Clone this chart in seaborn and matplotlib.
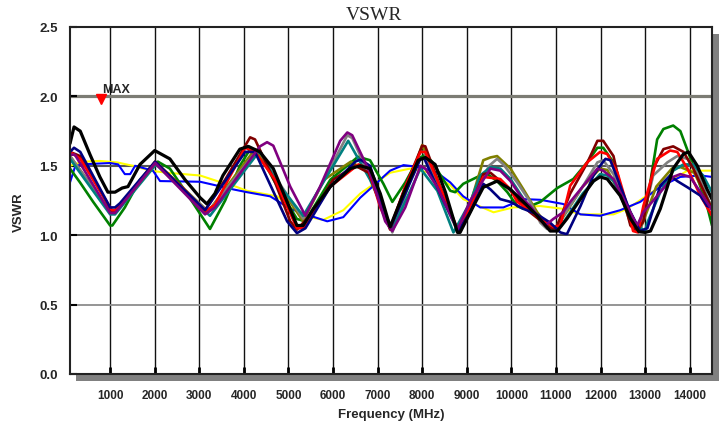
import matplotlib
matplotlib.use("Agg")
import matplotlib.pyplot as plt
import seaborn as sns
import pandas as pd
from matplotlib.patches import Rectangle

# ---------------- data (frequency MHz, VSWR) ----------------
black_f = [100,190,330,550,770,950,1110,1270,1400,1670,2000,2340,2680,3020,3170,3350,3530,3910,4100,4360,4660,4970,5190,5330,5560,5940,6390,6610,6830,7060,7280,7580,7910,8070,8290,8520,8790,8850,9150,9370,9680,9980,10270,10580,10870,11030,11250,11550,11840,11990,12150,12440,12670,12860,13000,13120,13340,13630,13860,13970,14170,14390,14500]
black_v = [1.66,1.78,1.75,1.58,1.42,1.31,1.31,1.34,1.35,1.51,1.61,1.55,1.40,1.27,1.225,1.30,1.43,1.62,1.64,1.60,1.48,1.24,1.07,1.07,1.19,1.35,1.48,1.50,1.48,1.30,1.06,1.30,1.54,1.56,1.51,1.31,1.02,1.02,1.21,1.345,1.39,1.33,1.24,1.14,1.03,1.03,1.12,1.26,1.39,1.42,1.405,1.285,1.12,1.025,1.02,1.03,1.19,1.48,1.585,1.60,1.50,1.33,1.26]

yellow_f = [100,390,770,1150,1510,1900,2280,3020,3400,3760,4070,4750,5040,5490,5780,6230,6610,7280,7730,8180,8630,8920,9600,10040,10650,11160,11550,12000,12290,12600,13340,13950,14500]
yellow_v = [1.50,1.53,1.535,1.525,1.50,1.465,1.45,1.43,1.39,1.357,1.32,1.28,1.20,1.13,1.11,1.18,1.30,1.45,1.48,1.45,1.36,1.26,1.165,1.20,1.21,1.19,1.15,1.15,1.15,1.19,1.35,1.465,1.465]

blue_f = [100,210,330,1000,1180,1330,1450,1560,1960,2120,3020,3400,3760,4070,4590,5040,5490,5870,6230,6610,6990,7280,7580,7960,8340,8630,8920,9300,9820,10270,10650,11160,11550,11990,12440,12890,13340,13790,14240,14500]
blue_v = [1.38,1.49,1.51,1.52,1.51,1.44,1.44,1.50,1.465,1.39,1.385,1.357,1.33,1.31,1.28,1.19,1.14,1.10,1.13,1.27,1.38,1.465,1.505,1.49,1.45,1.38,1.28,1.20,1.20,1.26,1.255,1.225,1.15,1.14,1.18,1.24,1.35,1.42,1.43,1.42]

green_f = [100,325,620,1000,1050,1330,1670,2070,2340,2680,3240,3580,3910,4140,4360,4700,5190,5380,5940,6560,6830,7130,7330,7620,7910,8070,8220,8630,8740,8920,9240,9460,9680,9910,10130,10270,10650,11030,11390,11700,11930,12060,12290,12510,12730,12850,13050,13270,13410,13630,13790,14080,14390,14500]
green_v = [1.48,1.38,1.24,1.07,1.07,1.20,1.40,1.53,1.48,1.32,1.045,1.25,1.50,1.62,1.58,1.38,1.117,1.10,1.40,1.565,1.54,1.37,1.24,1.38,1.55,1.58,1.53,1.32,1.31,1.37,1.42,1.44,1.39,1.31,1.21,1.19,1.24,1.34,1.405,1.525,1.63,1.63,1.525,1.26,1.07,1.06,1.25,1.69,1.765,1.79,1.75,1.50,1.21,1.07]

red_f = [100,330,1040,1110,1330,2010,2570,3130,3350,4030,4250,4700,5190,5330,5940,6570,6790,7060,7280,7620,7960,8070,8400,8790,9080,9370,9750,9980,10130,10360,10580,10800,10940,11100,11320,11700,11990,12150,12380,12600,12730,12840,12960,13270,13560,13720,13950,14240,14500]
red_v = [1.60,1.55,1.18,1.18,1.25,1.52,1.36,1.17,1.22,1.63,1.60,1.40,1.05,1.05,1.35,1.51,1.48,1.20,1.05,1.35,1.60,1.60,1.35,1.04,1.20,1.42,1.405,1.33,1.24,1.19,1.14,1.09,1.06,1.07,1.357,1.525,1.60,1.585,1.45,1.21,1.03,1.02,1.21,1.55,1.61,1.60,1.48,1.285,1.14]

maroon_f = [100,330,1040,1110,2010,3130,3580,4140,4250,4700,5040,5190,5560,6000,6500,6800,7280,7620,8000,8070,8400,8810,9080,9370,9530,9900,10400,10870,11000,11320,11700,11930,12060,12290,12440,12670,12820,12960,13180,13410,13630,13860,14080,14500]
maroon_v = [1.60,1.57,1.17,1.17,1.53,1.18,1.40,1.705,1.69,1.38,1.10,1.04,1.17,1.40,1.50,1.45,1.04,1.35,1.645,1.64,1.35,1.03,1.20,1.44,1.45,1.35,1.17,1.05,1.05,1.30,1.52,1.68,1.68,1.57,1.357,1.07,1.03,1.10,1.48,1.62,1.64,1.60,1.48,1.19]

navy_f = [100,190,330,1000,1110,1220,2010,3130,4030,4250,4970,5190,5380,5940,6500,6610,6830,7280,7960,8050,8400,8810,9080,9370,9530,9750,9980,10270,10580,10870,11100,11210,11250,11550,11840,11990,12110,12220,12440,12670,12890,13050,13340,13560,13720,13950,14240,14390,14500]
navy_v = [1.60,1.63,1.60,1.20,1.20,1.23,1.53,1.18,1.60,1.60,1.10,1.015,1.05,1.35,1.53,1.545,1.50,1.05,1.55,1.55,1.30,1.03,1.17,1.37,1.33,1.26,1.24,1.19,1.15,1.09,1.02,1.01,1.01,1.21,1.43,1.50,1.55,1.54,1.357,1.165,1.03,1.05,1.357,1.43,1.39,1.345,1.285,1.21,1.20]

purple_f = [100,210,1000,1110,2010,3130,3350,4360,4520,4660,5040,5380,5710,6160,6320,6430,6830,7170,7330,7620,7960,8070,8340,8630,8790,9080,9530,9750,9980,10200,10420,10650,10760,10940,11160,11320,11930,12060,12290,12600,12820,12960,13340,13630,13790,14010,14240,14500]
purple_v = [1.58,1.58,1.16,1.16,1.52,1.15,1.20,1.64,1.67,1.645,1.35,1.14,1.35,1.68,1.74,1.72,1.45,1.10,1.03,1.20,1.50,1.48,1.345,1.15,1.04,1.25,1.48,1.465,1.39,1.285,1.21,1.117,1.07,1.117,1.165,1.24,1.48,1.465,1.405,1.21,1.07,1.165,1.31,1.42,1.44,1.42,1.31,1.18]

teal_f = [100,1000,1110,2030,3240,4360,4700,5330,6340,6830,7330,7960,8340,8700,9080,9300,9530,9750,9980,10400,10900,11100,11600,11990,12150,12290,12600,12820,13000,13050,13340,13630,13860,14080,14300,14500]
teal_v = [1.55,1.15,1.15,1.51,1.14,1.61,1.40,1.14,1.68,1.40,1.04,1.48,1.32,1.02,1.24,1.43,1.49,1.48,1.405,1.20,1.05,1.06,1.30,1.44,1.43,1.39,1.21,1.07,1.03,1.09,1.31,1.465,1.51,1.51,1.43,1.31]

gray_f = [100,1000,1110,2010,3200,4320,4700,5330,5800,6320,6430,6830,7330,7950,8050,8400,8790,9100,9500,9680,9820,10130,10420,10650,10800,11000,11600,11930,12060,12290,12600,12780,12900,13180,13500,13720,13950,14170,14500]
gray_v = [1.57,1.17,1.17,1.52,1.17,1.62,1.42,1.12,1.40,1.72,1.70,1.42,1.02,1.60,1.60,1.30,1.03,1.25,1.50,1.55,1.51,1.38,1.24,1.09,1.045,1.06,1.35,1.525,1.54,1.44,1.19,1.045,1.05,1.43,1.525,1.57,1.55,1.455,1.19]

olive_f = [100,1000,1110,2010,3200,4250,4700,5330,5800,6400,6800,7330,8000,8400,8790,9100,9370,9530,9680,9980,10270,10580,10870,11000,11600,11990,12150,12440,12700,12900,13250,13600,13800,14100,14500]
olive_v = [1.57,1.17,1.17,1.53,1.17,1.62,1.40,1.10,1.40,1.53,1.45,1.03,1.65,1.35,1.03,1.25,1.54,1.56,1.57,1.48,1.33,1.165,1.045,1.05,1.35,1.48,1.47,1.30,1.06,1.05,1.35,1.48,1.49,1.45,1.20]

max_freq = [800]
max_vswr = [1.98]

x_ticks = [1000,2000,3000,4000,5000,6000,7000,8000,9000,10000,11000,12000,13000,14000]
y_ticks = [0.0,0.5,1.0,1.5,2.0,2.5]

# ---------------- styling ----------------
sns.set_style("white")
plt.rcParams['font.family'] = ['Liberation Sans', 'DejaVu Sans']

W, H = 723, 427
fig = plt.figure(figsize=(W/100, H/100), dpi=100)
ax_l, ax_r, ax_t, ax_b = 70, 712, 28, 375
ax = fig.add_axes([ax_l/W, 1-ax_b/H, (ax_r-ax_l)/W, (ax_b-ax_t)/H])
ax.set_facecolor('white')

# drop shadow
sh = 7
fig.patches.append(Rectangle(((ax_l+6)/W, 1-(ax_b+sh)/H), (ax_r-ax_l+sh-6)/W, (ax_b-ax_t)/H,
                             transform=fig.transFigure, facecolor='#808080', edgecolor='none', zorder=0))
ax.set_zorder(1)

series = [
    ('yellow', yellow_f, yellow_v, '#FFFF00', 1.5),
    ('blue', blue_f, blue_v, '#0000FF', 1.5),
    ('green', green_f, green_v, '#008000', 1.9),
    ('olive', olive_f, olive_v, '#808000', 1.9),
    ('gray', gray_f, gray_v, '#808080', 1.9),
    ('teal', teal_f, teal_v, '#008080', 1.9),
    ('maroon', maroon_f, maroon_v, '#800000', 1.9),
    ('red', red_f, red_v, '#FF0000', 1.9),
    ('navy', navy_f, navy_v, '#000080', 1.9),
    ('purple', purple_f, purple_v, '#800080', 1.9),
    ('black', black_f, black_v, '#000000', 2.3),
]
for name, f, v, c, lw in series:
    df = pd.DataFrame({'Frequency': f, 'VSWR': v})
    sns.lineplot(data=df, x='Frequency', y='VSWR', color=c, linewidth=lw,
                 sort=False, estimator=None, ax=ax, zorder=3)

ax.set_xlim(100, 14500)
ax.set_ylim(0, 2.5)
ax.set_xticks(x_ticks)
ax.set_xticklabels([str(t) for t in x_ticks])
ax.set_yticks(y_ticks)
ax.set_yticklabels([f"{t:.1f}" for t in y_ticks])

# grid
ax.grid(True, axis='x', color='#111111', linewidth=1.0, zorder=1)
ax.grid(True, axis='y', color='#555555', linewidth=1.2, zorder=1)
ystyles = {0.5: ('#8c8c8c', 1.3), 1.0: ('#333333', 1.2), 1.5: ('#555555', 1.5), 2.0: ('#7c7c74', 2.3)}
for t, gl in zip(y_ticks, ax.get_ygridlines()):
    if t in ystyles:
        gl.set_color(ystyles[t][0]); gl.set_linewidth(ystyles[t][1])
    else:
        gl.set_visible(False)
ax.set_axisbelow(True)

for s in ax.spines.values():
    s.set_color('#222222'); s.set_linewidth(1.5); s.set_zorder(4)

ax.tick_params(axis='x', direction='in', length=5, width=2, color='black', pad=11,
               labelsize=8.5, bottom=True)
ax.tick_params(axis='y', direction='in', length=5, width=1.5, color='black', pad=9,
               labelsize=9.5, left=True)
for lab in ax.get_xticklabels() + ax.get_yticklabels():
    lab.set_fontweight('bold')

ax.set_xlabel('Frequency (MHz)', fontsize=9.5, fontweight='bold')
ax.xaxis.set_label_coords(0.5, (ax_b-415)/(ax_b-ax_t))
ax.xaxis.label.set_va('center')
ax.set_ylabel('VSWR', fontsize=9.5, fontweight='bold')
ax.yaxis.set_label_coords((19-ax_l)/(ax_r-ax_l), 0.47)
ax.yaxis.label.set_va('center')

# MAX marker
ax.plot(max_freq, max_vswr, marker='v', color='red', markersize=6.5, linestyle='none', zorder=5)
ax.text(max_freq[0] + 20, 2.05, 'MAX', fontsize=9, fontweight='bold', va='center', ha='left', zorder=5)

fig.text(374/W, 1-15/H, 'VSWR', family=['Liberation Serif', 'DejaVu Serif'], fontsize=14,
         ha='center', va='center')

fig.savefig('out.png', dpi=100)
